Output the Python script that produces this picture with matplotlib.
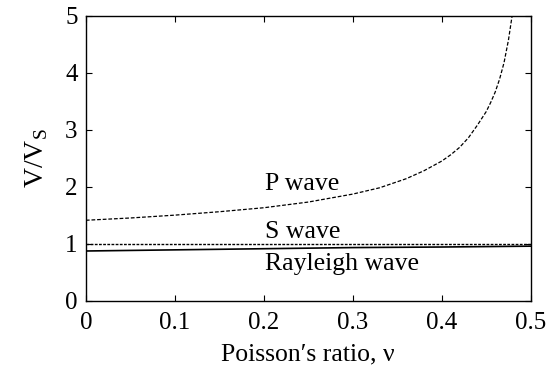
import matplotlib
matplotlib.use("Agg")
from matplotlib import pyplot as plt

# valores
nu_p = [0.0, 0.05, 0.1, 0.15, 0.2, 0.25, 0.3, 0.33, 0.36, 0.38, 0.4, 0.41, 0.42,
        0.43, 0.44, 0.45, 0.455, 0.46, 0.465, 0.47, 0.475, 0.48]
v_p = [1.41, 1.45, 1.50, 1.56, 1.63, 1.73, 1.87, 1.98, 2.14, 2.28, 2.45, 2.56, 2.69,
       2.86, 3.08, 3.32, 3.48, 3.66, 3.89, 4.18, 4.58, 5.10]

nu_s = [0.0, 0.5]
v_s = [1.0, 1.0]

nu_r = [0.0, 0.1, 0.2, 0.3, 0.4, 0.5]
v_r = [0.87, 0.89, 0.91, 0.93, 0.94, 0.955]

etiquetas = ["P wave", "S wave", "Rayleigh wave"]
pos_etiquetas = [1.95, 1.1, 0.53]

plt.rcParams['font.family'] = ['Liberation Serif', 'DejaVu Serif']

fig, ax = plt.subplots(figsize=(5.54, 3.71), dpi=100)
ax.plot(nu_p, v_p, color='black', linestyle=(0, (3, 1.5)), linewidth=0.9)
ax.plot(nu_s, v_s, color='black', linestyle=(0, (2, 1)), linewidth=1.0)
ax.plot(nu_r, v_r, color='black', linestyle='-', linewidth=1.2)

for texto, y in zip(etiquetas, pos_etiquetas):
    ax.text(0.201, y, texto, fontsize=18.5, va='baseline', ha='left')

ax.set_xlim(0, 0.5)
ax.set_ylim(0, 5)
ax.set_xticks([0, 0.1, 0.2, 0.3, 0.4, 0.5])
ax.set_xticklabels(['0', '0.1', '0.2', '0.3', '0.4', '0.5'])
ax.set_yticks([0, 1, 2, 3, 4, 5])
ax.tick_params(direction='in', top=True, right=True, labelsize=18, length=4)
ax.tick_params(axis='x', pad=8)
ax.tick_params(axis='y', pad=6)
for s in ax.spines.values():
    s.set_linewidth(1.0)

ax.set_xlabel("Poisson\u2032s ratio, \u03bd", fontsize=18.5, labelpad=7)
ax.set_ylabel("V/V$_\\mathregular{S}$", fontsize=20, labelpad=11)

plt.subplots_adjust(left=0.155, right=0.958, top=0.957, bottom=0.19)
plt.savefig("out.png", dpi=100)
